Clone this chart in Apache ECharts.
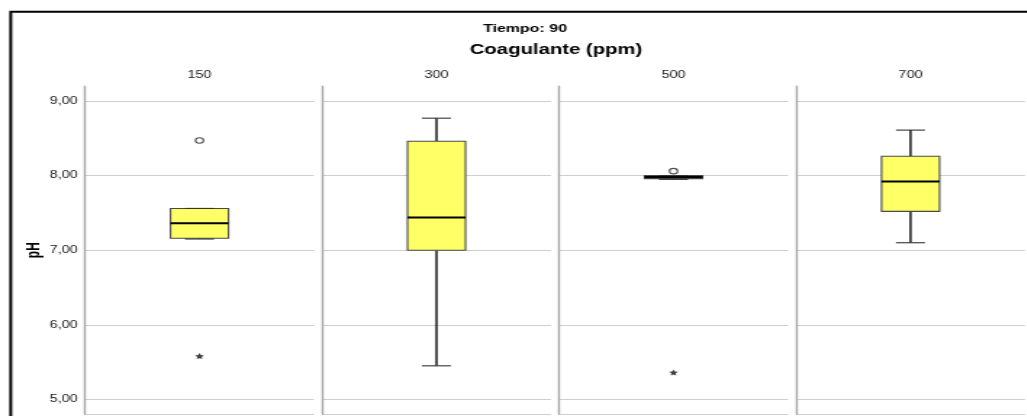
<!DOCTYPE html>
<html>
<head>
<meta charset="utf-8">
<title>Tiempo: 90 — pH por coagulante</title>
<script src="https://cdn.jsdelivr.net/npm/echarts@6/dist/echarts.min.js"></script>
<style>
  html, body { margin: 0; padding: 0; background: #fff; overflow: hidden; }
  #chart { height: 416px; transform-origin: 0 0; }
</style>
</head>
<body>
<div id="chart"></div>
<script>
// Coagulant dose panels and pH box statistics
const categories   = ['150', '300', '500', '700'];
const whiskerLow   = [7.15, 5.45, 7.95, 7.10];
const quartile1    = [7.16, 7.00, 7.96, 7.52];
const medians      = [7.36, 7.44, 7.98, 7.92];
const quartile3    = [7.56, 8.46, 8.00, 8.26];
const whiskerHigh  = [7.56, 8.77, 8.00, 8.61];
// Outliers: [panel index, pH]
const outlierCircle = [[0, 8.47], [2, 8.06]];
const outlierStar   = [[0, 5.58], [2, 5.36]];

const titleText = 'Tiempo: 90';
const groupTitle = 'Coagulante (ppm)';
const yName = 'pH';

// The drawing is widened horizontally, like the original export
const K = 1.45;
const W = 1027 / K;
const el = document.getElementById('chart');
el.style.width = W + 'px';
el.style.transform = 'scaleX(' + K + ')';

const FONT = "'Liberation Sans', Arial, sans-serif";
const sx = v => v / K;

const fmt = v => v.toFixed(2).replace('.', ',');

const grids = categories.map((c, i) => ({
  left: sx(85 + 237 * i), width: sx(229), top: 86.1, height: 328.2
}));

const xAxes = categories.map((c, i) => ({
  gridIndex: i, type: 'category', data: [c], position: 'top',
  axisLine: { show: false }, axisTick: { show: false }, splitLine: { show: false },
  axisLabel: { margin: 6, color: '#222', fontSize: 10, fontFamily: FONT }
}));

const yAxes = categories.map((c, i) => ({
  gridIndex: i, type: 'value', min: 4.8, max: 9.2,
  axisLine: { show: true, lineStyle: { color: '#a8a8a8', width: 1.4 } },
  axisTick: { show: false },
  axisLabel: {
    show: i === 0, formatter: fmt, showMinLabel: false, showMaxLabel: false,
    margin: 5, fontSize: 10, color: '#222', fontFamily: FONT
  },
  splitLine: { show: true, showMinLine: true, showMaxLine: false,
    lineStyle: { color: '#cfcfcf', width: 1 } },
  name: i === 0 ? yName : '',
  nameLocation: 'middle', nameRotate: 90, nameGap: 29,
  nameTextStyle: { fontSize: 12, fontWeight: 'bold', color: '#000', fontFamily: FONT }
}));

const BOX_W = sx(58);
const CAP_W = sx(29);

function renderBox(params, api) {
  const cat = api.value(0);
  const p = k => api.coord([cat, api.value(k)]);
  const cx = p(1)[0];
  const yLow = p(1)[1], yQ1 = p(2)[1], yMed = p(3)[1], yQ3 = p(4)[1], yHigh = p(5)[1];
  const line = (x1, y1, x2, y2, stroke, w) => ({
    type: 'line', shape: { x1, y1, x2, y2 }, style: { stroke, lineWidth: w }
  });
  return {
    type: 'group',
    children: [
      line(cx, yQ3, cx, yHigh, '#000', 1.35),
      line(cx, yQ1, cx, yLow, '#000', 1.35),
      { type: 'rect', shape: { x: cx - BOX_W / 2, y: yQ3, width: BOX_W, height: Math.max(yQ1 - yQ3, 0.5) },
        style: { fill: '#ffff66', stroke: '#4a4a4a', lineWidth: 1.1 } },
      line(cx - BOX_W / 2, yMed, cx + BOX_W / 2, yMed, '#000', 2),
      line(cx - CAP_W / 2, yHigh, cx + CAP_W / 2, yHigh, '#333', 1.1),
      line(cx - CAP_W / 2, yLow, cx + CAP_W / 2, yLow, '#333', 1.1)
    ]
  };
}

const STAR = 'path://M0,-10L2.94,-4.05L9.51,-3.09L4.76,1.55L5.88,8.09L0,5.25L-5.88,8.09L-4.76,1.55L-9.51,-3.09L-2.94,-4.05Z';

const series = [];
categories.forEach((c, i) => {
  series.push({
    type: 'custom', xAxisIndex: i, yAxisIndex: i,
    renderItem: renderBox,
    encode: { x: 0, y: [1, 2, 3, 4, 5] },
    data: [[c, whiskerLow[i], quartile1[i], medians[i], quartile3[i], whiskerHigh[i]]],
    silent: true, z: 3
  });
  series.push({
    type: 'scatter', xAxisIndex: i, yAxisIndex: i,
    symbol: 'circle', symbolSize: 5.5,
    itemStyle: { color: '#fff', borderColor: '#222', borderWidth: 1.1 },
    data: outlierCircle.filter(d => d[0] === i).map(d => [c, d[1]]),
    silent: true, z: 4
  });
  series.push({
    type: 'scatter', xAxisIndex: i, yAxisIndex: i,
    symbol: STAR, symbolSize: 6,
    itemStyle: { color: '#111' },
    data: outlierStar.filter(d => d[0] === i).map(d => [c, d[1]]),
    silent: true, z: 4
  });
});

const chart = echarts.init(el, null, { renderer: 'canvas' });
chart.setOption({
  animation: false,
  backgroundColor: '#fff',
  grid: grids,
  xAxis: xAxes,
  yAxis: yAxes,
  series: series,
  graphic: [
    { type: 'rect', shape: { x: sx(10.7), y: 11.8, width: 3000, height: 3000 },
      style: { fill: 'none', stroke: '#000', lineWidth: 2 }, silent: true },
    { type: 'text', x: sx(525), y: 29,
      style: { text: titleText, textAlign: 'center', textVerticalAlign: 'middle',
        font: "bold 11px 'Liberation Sans', Arial, sans-serif", fill: '#000' } },
    { type: 'text', x: sx(556), y: 50,
      style: { text: groupTitle, textAlign: 'center', textVerticalAlign: 'middle',
        font: "bold 14px 'Liberation Sans', Arial, sans-serif", fill: '#000' } }
  ]
});
</script>
</body>
</html>
